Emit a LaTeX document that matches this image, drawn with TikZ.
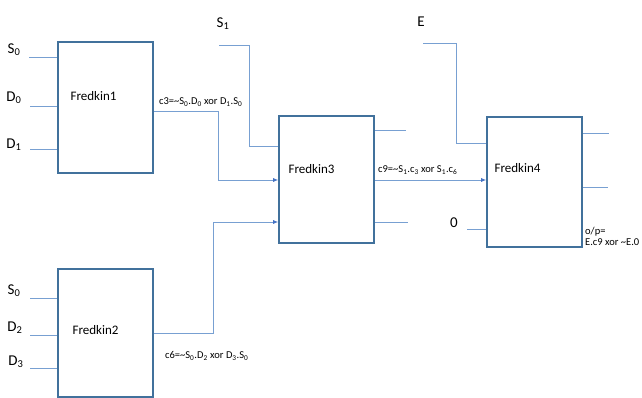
\documentclass[tikz,border=0pt]{standalone}
\usepackage{fontspec}
\setmainfont{Carlito}
\usetikzlibrary{arrows.meta}
\definecolor{boxline}{RGB}{65,113,156}
\definecolor{wire}{RGB}{120,160,210}
\definecolor{arrowblue}{RGB}{68,114,196}
\begin{document}
\begin{tikzpicture}[
  x=1pt,y=-1pt,
  gate/.style={draw=boxline, line width=1.6pt, minimum width=95pt, inner sep=0pt},
  gatename/.style={font=\fontsize{13}{15}\selectfont, anchor=west},
  pin/.style={font=\fontsize{15}{17}\selectfont, inner sep=0pt},
  expr/.style={font=\fontsize{10.5}{11}\selectfont, inner sep=0pt, anchor=west, align=left},
  wire/.style={draw=wire, line width=0.8pt},
  arrow/.style={wire, -{Latex[length=5pt,width=4pt,color=arrowblue]}}
]
\useasboundingbox (0,0) rectangle (642,398);

% the four gates
\node[gate, minimum height=131pt] (f1) at (105.5,107.5) {};
\node[gate, minimum height=128pt] (f2) at (105.5,333) {};
\node[gate, minimum height=127pt] (f3) at (326.5,179.5) {};
\node[gate, minimum height=130pt] (f4) at (534.5,182) {};
\node[gatename] (f1name) at (67,96) {Fredkin1};
\node[gatename] (f2name) at (69,330) {Fredkin2};
\node[gatename] (f3name) at (285,169) {Fredkin3};
\node[gatename] (f4name) at (491,168) {Fredkin4};

% inputs of Fredkin1 and Fredkin2
\node[pin] (s0a) at (14,50) {S\textsubscript{0}};
\node[pin] (d0) at (14,98) {D\textsubscript{0}};
\node[pin] (d1) at (14,145) {D\textsubscript{1}};
\node[pin] (s0b) at (14,291) {S\textsubscript{0}};
\node[pin] (d2) at (15,328) {D\textsubscript{2}};
\node[pin] (d3) at (16,362) {D\textsubscript{3}};
\coordinate (s0a-in) at (29,57);
\coordinate (d0-in) at (30,106);
\coordinate (d1-in) at (30,149);
\coordinate (s0b-in) at (30,298);
\coordinate (d2-in) at (30,335);
\coordinate (d3-in) at (30,368);
\foreach \p in {s0a,d0,d1}
  \draw[wire] (\p-in) -- (\p-in -| f1.west);
\foreach \p in {s0b,d2,d3}
  \draw[wire] (\p-in) -- (\p-in -| f2.west);

% control inputs
\node[pin] (s1) at (223,24) {S\textsubscript{1}};
\node[pin] (en) at (421,22) {E};
\node[pin] (zero) at (454,223) {0};
\coordinate (s1-in) at (219,45);
\coordinate (en-in) at (423,43);
\coordinate (zero-in) at (467,229);
\draw[wire] (s1-in) -- (249,45) -- (249,146) -- (249,146 -| f3.west);
\draw[wire] (en-in) -- (456,43) -- (456,143) -- (456,143 -| f4.west);
\draw[wire] (zero-in) -- (zero-in -| f4.west);

% c3 and c6 into Fredkin3
\draw[arrow] (f1.east |- 0,111) -- (218,111) -- (218,180) -- (218,180 -| f3.west);
\draw[arrow] (f2.east |- 0,333) -- (213,333) -- (213,222) -- (213,222 -| f3.west);
\node[expr] (c3) at (159,102) {c3=\textasciitilde S\textsubscript{0}.D\textsubscript{0} xor D\textsubscript{1}.S\textsubscript{0}};
\node[expr] (c6) at (165,356) {c6=\textasciitilde S\textsubscript{0}.D\textsubscript{2} xor D\textsubscript{3}.S\textsubscript{0}};

% c9 into Fredkin4, spare outputs
\draw[arrow] (f3.east |- 0,180) -- (f3.east |- 0,180 -| f4.west);
\node[expr] (c9) at (378,170) {c9=\textasciitilde S\textsubscript{1}.c\textsubscript{3} xor S\textsubscript{1}.c\textsubscript{6}};
\coordinate (f3-top) at (406,130);
\coordinate (f3-bot) at (408,222);
\coordinate (f4-top) at (609,133);
\coordinate (f4-mid) at (608,187);
\draw[wire] (f3-top -| f3.east) -- (f3-top);
\draw[wire] (f3-bot -| f3.east) -- (f3-bot);
\draw[wire] (f4-top -| f4.east) -- (f4-top);
\draw[wire] (f4-mid -| f4.east) -- (f4-mid);
\node[expr] (out) at (585,236) {o/p=\\E.c9 xor \textasciitilde E.0};
\end{tikzpicture}
\end{document}
